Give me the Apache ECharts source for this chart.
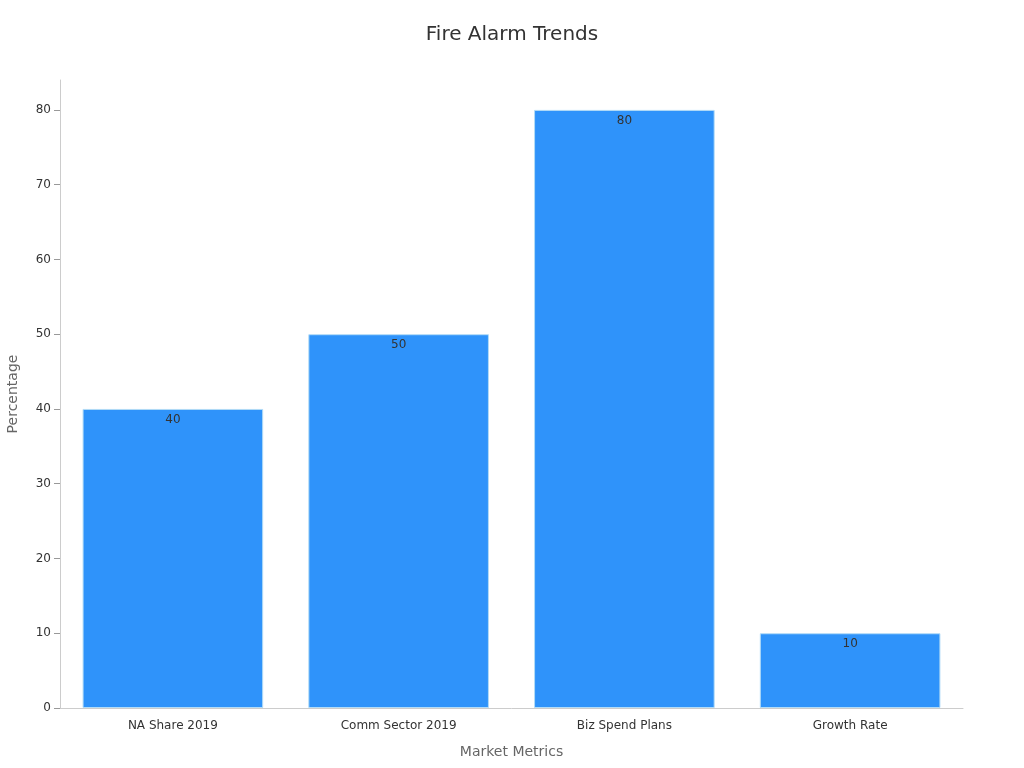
<!DOCTYPE html>
<html>
<head>
<meta charset="utf-8">
<script src="https://cdn.jsdelivr.net/npm/echarts@6/dist/echarts.min.js"></script>
<style>html,body{margin:0;padding:0;background:#fff}#c{width:1024px;height:768px}</style>
</head>
<body>
<div id="c"></div>
<script>
var categories = ['NA Share 2019', 'Comm Sector 2019', 'Biz Spend Plans', 'Growth Rate'];
var values = [40, 50, 80, 10];
var yTicks = [0, 10, 20, 30, 40, 50, 60, 70, 80];

var chart = echarts.init(document.getElementById('c'));
chart.setOption({
  animation: false,
  title: {
    text: 'Fire Alarm Trends', left: 'center', top: 20,
    textStyle: { fontSize: 20, fontWeight: 'normal', color: '#333', fontFamily: 'DejaVu Sans' }
  },
  grid: { left: 60, right: 61, top: 80, bottom: 60, containLabel: false, outerBoundsMode: 'none' },
  xAxis: {
    type: 'category', data: categories,
    name: 'Market Metrics', nameLocation: 'middle', nameGap: 37,
    nameTextStyle: { fontSize: 14, color: '#666', fontFamily: 'DejaVu Sans' },
    axisLine: { lineStyle: { color: '#ccc' } },
    axisTick: { alignWithLabel: true, length: 6, lineStyle: { color: '#999' } },
    axisLabel: { color: '#333', fontSize: 12, fontFamily: 'DejaVu Sans', margin: 12 }
  },
  yAxis: {
    type: 'value', min: 0, max: 84, interval: 10,
    name: 'Percentage', nameLocation: 'middle', nameGap: 40,
    nameTextStyle: { fontSize: 14, color: '#666', fontFamily: 'DejaVu Sans' },
    axisLine: { show: true, lineStyle: { color: '#ccc' } },
    axisTick: { show: true, length: 6, customValues: yTicks, lineStyle: { color: '#999' } },
    axisLabel: { customValues: yTicks, color: '#333', fontSize: 12, fontFamily: 'DejaVu Sans', margin: 9 },
    splitLine: { show: false }
  },
  series: [{
    type: 'bar', data: values, barCategoryGap: '20%',
    itemStyle: { color: '#2f93fa', borderColor: '#b3dcf7', borderWidth: 1 },
    label: { show: true, position: 'insideTop', color: '#333', fontSize: 12, fontFamily: 'DejaVu Sans', distance: 5 }
  }]
});
</script>
</body>
</html>
